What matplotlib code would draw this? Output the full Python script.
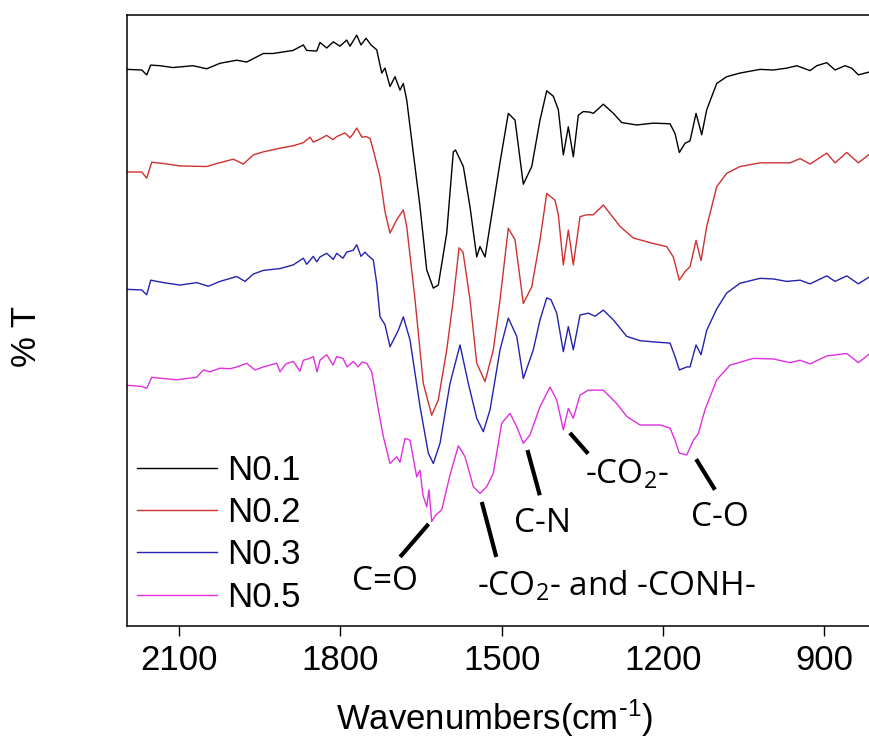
import numpy as np
import matplotlib
matplotlib.use('Agg')
from matplotlib import pyplot as plt

plt.rcParams['font.family'] = ['Liberation Sans', 'DejaVu Sans']
plt.rcParams['mathtext.default'] = 'regular'

# N0.1 (black)
wn1 = [2197, 2169.9, 2160.6, 2153.2, 2135.9, 2111.7, 2074.5, 2048.9, 2024.2, 1993.1, 1974.5, 1943.6,
       1925.5, 1888.3, 1869.1, 1862.8, 1844.2, 1838.1, 1825.6, 1813.3, 1800.9, 1788.4, 1782.2, 1769.8,
       1761.8, 1752.4, 1743.1, 1732.5, 1723.2, 1717.1, 1707.8, 1698.5, 1689.2, 1683.0, 1676.7, 1664.4,
       1651.9, 1639.5, 1627.2, 1617.9, 1602.2, 1590.0, 1585.9, 1571.3, 1558.9, 1546.4, 1540.3, 1530.9,
       1516.1, 1503.0, 1487.6, 1475.1, 1459.7, 1444.0, 1428.6, 1416.1, 1403.8, 1394.5, 1385.2, 1375.9,
       1366.6, 1357.3, 1348.0, 1335.6, 1329.4, 1310.7, 1292.1, 1276.5, 1248.6, 1217.7, 1186.6, 1177.3,
       1169.3, 1158.7, 1149.4, 1138.2, 1127.6, 1118.3, 1099.7, 1081.1, 1056.3, 1019.1, 994.3, 969.4,
       950.8, 926.0, 913.6, 894.9, 879.5, 860.9, 848.4, 836.1, 814.4]
t1 = [91.1, 91.0, 90.2, 91.8, 91.7, 91.4, 91.7, 91.2, 92.1, 92.6, 92.3, 93.7,
      93.7, 94.2, 95.1, 94.2, 94.1, 95.5, 94.6, 95.6, 94.9, 95.9, 94.9, 96.7,
      95.1, 96.2, 95.1, 94.3, 90.5, 91.3, 88.3, 89.9, 87.7, 88.8, 86.1, 77.4,
      68.6, 58.3, 55.3, 55.8, 64.3, 77.6, 77.9, 75.2, 68.6, 60.4, 62.1, 60.4,
      68.6, 75.9, 83.9, 82.8, 72.3, 75.2, 82.8, 87.6, 86.7, 84.5, 77.1, 81.7,
      76.8, 83.6, 84.2, 84.1, 83.9, 85.4, 83.9, 82.4, 82.0, 82.3, 82.2, 80.6,
      77.5, 79.0, 79.4, 83.9, 80.4, 84.5, 88.8, 89.9, 90.5, 91.1, 91.0, 91.3,
      91.7, 90.9, 91.7, 92.2, 91.0, 91.7, 91.3, 90.2, 90.7]

# N0.2 (red)
wn2 = [2197, 2169.9, 2160.6, 2151.3, 2129.7, 2098.6, 2048.9, 2030.3, 1999.4, 1980.8, 1962.2, 1943.6,
       1912.5, 1887.8, 1869.1, 1856.7, 1850.5, 1838.1, 1825.6, 1813.9, 1807.0, 1791.5, 1782.2, 1776.1,
       1769.8, 1759.9, 1752.4, 1745.0, 1738.9, 1726.4, 1717.1, 1707.8, 1695.3, 1683.0, 1676.7, 1661.2,
       1645.8, 1630.2, 1617.9, 1602.2, 1590.0, 1579.3, 1571.9, 1558.9, 1546.4, 1530.9, 1515.5, 1503.0,
       1487.6, 1475.1, 1459.7, 1444.0, 1428.6, 1416.1, 1400.7, 1394.5, 1385.2, 1375.9, 1366.6, 1354.1,
       1341.7, 1329.4, 1310.7, 1279.7, 1254.9, 1217.7, 1192.8, 1180.5, 1169.3, 1158.7, 1149.4, 1138.2,
       1128.9, 1118.3, 1099.7, 1081.1, 1056.3, 1019.1, 963.3, 944.6, 926.0, 894.9, 879.5, 857.7,
       836.1, 814.4]
t2 = [74.3, 74.3, 73.3, 75.9, 75.7, 75.3, 75.2, 75.7, 76.4, 75.6, 77.1, 77.6,
      78.2, 78.6, 79.1, 80.0, 79.2, 79.7, 80.3, 79.6, 80.1, 80.7, 79.9, 80.6,
      81.5, 80.0, 80.1, 79.8, 77.9, 73.5, 67.8, 64.3, 66.5, 68.1, 65.4, 53.4,
      39.7, 34.5, 37.0, 45.2, 53.4, 61.9, 61.2, 53.4, 43.0, 40.0, 45.2, 53.4,
      65.1, 63.2, 52.8, 55.5, 63.2, 70.8, 69.7, 67.3, 59.1, 64.8, 59.1, 67.0,
      67.3, 67.3, 68.9, 65.4, 63.5, 62.6, 62.1, 60.4, 56.6, 58.0, 58.8, 63.1,
      59.8, 65.4, 71.9, 74.1, 75.2, 75.8, 75.8, 76.5, 75.6, 77.4, 75.8, 77.5,
      75.8, 77.3]

# N0.3 (blue)
wn3 = [2197, 2169.9, 2160.6, 2153.2, 2129.7, 2098.6, 2067.6, 2046.0, 2024.2, 1993.1, 1977.7, 1962.2,
       1943.6, 1912.5, 1887.8, 1869.1, 1862.8, 1850.5, 1844.2, 1838.1, 1825.6, 1813.3, 1807.0, 1795.3,
       1788.4, 1776.1, 1769.8, 1761.8, 1754.3, 1748.2, 1738.9, 1732.5, 1726.4, 1717.1, 1707.8, 1692.3,
       1683.0, 1670.5, 1651.9, 1636.5, 1627.2, 1614.7, 1596.1, 1577.5, 1562.0, 1546.4, 1534.1, 1521.6,
       1503.0, 1487.6, 1471.9, 1459.7, 1441.1, 1428.6, 1416.1, 1408.1, 1397.5, 1385.2, 1375.9, 1366.6,
       1354.1, 1338.7, 1326.2, 1310.7, 1292.1, 1267.2, 1242.5, 1217.7, 1186.6, 1177.3, 1169.3, 1155.5,
       1149.4, 1138.2, 1128.9, 1118.3, 1099.7, 1081.1, 1056.3, 1019.1, 994.3, 969.4, 944.6, 926.0,
       894.9, 879.5, 857.7, 836.1, 814.4]
t3 = [55.1, 55.0, 54.2, 56.6, 56.2, 55.8, 56.2, 55.6, 56.4, 57.2, 56.4, 57.6,
      58.2, 58.5, 59.1, 60.2, 59.2, 60.5, 59.6, 60.4, 61.0, 60.0, 61.0, 60.2,
      61.2, 61.5, 62.4, 60.5, 61.2, 60.6, 59.9, 56.1, 50.6, 49.3, 45.7, 48.4,
      50.6, 46.8, 35.9, 28.3, 26.6, 29.9, 39.7, 46.0, 39.7, 34.0, 31.8, 35.4,
      45.2, 50.4, 47.4, 40.5, 45.2, 50.1, 53.7, 53.4, 51.2, 44.9, 49.0, 45.2,
      50.9, 51.2, 50.7, 51.7, 50.1, 47.4, 46.7, 46.5, 46.3, 44.1, 41.9, 42.4,
      42.4, 46.0, 44.4, 48.4, 51.9, 54.5, 56.1, 56.9, 56.8, 56.4, 56.6, 56.0,
      57.3, 56.4, 57.3, 56.0, 57.2]

# N0.5 (magenta)
wn5 = [2197, 2169.9, 2160.6, 2151.3, 2129.7, 2104.8, 2067.6, 2055.3, 2042.8, 2024.2, 2005.6, 1993.1,
       1974.5, 1959.0, 1943.6, 1918.7, 1912.5, 1901.4, 1887.8, 1875.3, 1869.1, 1856.7, 1850.5, 1843.6,
       1838.1, 1825.6, 1813.9, 1807.0, 1795.3, 1787.8, 1776.1, 1767.3, 1759.9, 1751.1, 1741.8, 1729.5,
       1720.2, 1707.8, 1695.3, 1689.2, 1679.9, 1670.5, 1658.1, 1651.9, 1646.4, 1639.5, 1635.2, 1630.2,
       1622.2, 1611.6, 1596.1, 1580.6, 1568.2, 1552.7, 1540.3, 1527.8, 1515.5, 1499.9, 1484.4, 1471.9,
       1459.7, 1447.2, 1428.6, 1410.0, 1397.5, 1385.2, 1375.9, 1366.6, 1354.1, 1338.7, 1310.7, 1285.8,
       1267.2, 1242.5, 1205.2, 1186.6, 1177.3, 1169.3, 1155.5, 1143.2, 1133.9, 1121.5, 1099.7, 1075.1,
       1031.6, 994.3, 963.3, 944.6, 926.0, 894.9, 857.7, 836.1, 814.4]
t5 = [39.4, 39.2, 38.9, 40.7, 40.5, 40.3, 40.7, 41.9, 41.6, 42.2, 42.1, 42.4,
      43.0, 41.9, 42.4, 43.0, 41.6, 42.9, 43.3, 41.7, 43.5, 43.8, 44.1, 41.6,
      43.5, 44.4, 42.7, 44.1, 43.8, 42.4, 43.3, 42.4, 43.2, 43.0, 41.6, 35.4,
      31.0, 26.6, 27.7, 26.8, 30.7, 30.4, 24.4, 25.5, 21.4, 19.5, 22.3, 17.1,
      18.2, 19.0, 24.7, 29.5, 27.7, 22.8, 21.7, 22.8, 25.0, 33.2, 34.8, 32.6,
      29.9, 31.3, 35.9, 39.1, 37.0, 32.1, 35.6, 34.0, 37.8, 38.6, 38.6, 36.4,
      34.3, 32.9, 32.9, 32.4, 30.4, 28.3, 28.0, 30.4, 31.5, 35.4, 40.3, 42.7,
      43.8, 43.7, 43.1, 43.5, 42.9, 44.2, 44.6, 43.1, 44.6]

labels = ['N0.1', 'N0.2', 'N0.3', 'N0.5']
colors = ['#000000', '#d03030', '#2323b0', '#e030e0']

# peak assignments: label, text position, line start (on curve), line end
notes = [('C=O', (1717, 7.3), (1636, 16.7), (1689, 11.3)),
         ('-CO$_{\\mathregular{2}}$- and -CONH-', (1287, 6.4), (1537, 20.3), (1510, 11.3)),
         ('C-N', (1424, 16.7), (1452, 28.8), (1429, 21.4)),
         ('-CO$_{\\mathregular{2}}$-', (1267, 24.7), (1373, 31.6), (1339, 28.2)),
         ('C-O', (1094, 17.7), (1138, 27.3), (1103, 22.3))]

fig = plt.figure(figsize=(8.7, 7.49), dpi=100)
ax = fig.add_axes([127/870, 1-626/749, 745/870, 611/749])

for x, y, lab, c in zip([wn1, wn2, wn3, wn5], [t1, t2, t3, t5], labels, colors):
    ax.plot(x, y, color=c, lw=1.0, label=lab)

for txt, tpos, p0, p1 in notes:
    ax.plot([p0[0], p1[0]], [p0[1], p1[1]], color='black', lw=3.0, solid_capstyle='butt')
    ax.text(tpos[0], tpos[1], txt, ha='center', va='center', fontsize=24,
            family=['Open Sans', 'DejaVu Sans'])

ax.set_xlim(2197.3, 810.7)
ax.set_ylim(0, 100)
ax.set_xticks([2100, 1800, 1500, 1200, 900])
ax.set_yticks([])
ax.tick_params(axis='x', direction='out', length=7, width=1.0, labelsize=25, pad=6)
for s in ax.spines.values():
    s.set_linewidth(1.1)
ax.spines['right'].set_visible(False)

leg = ax.legend(loc='lower left', bbox_to_anchor=(0.013, 0.02), frameon=False, fontsize=25,
                handlelength=2.3, handletextpad=0.3, labelspacing=0.27, borderpad=0, borderaxespad=0)

fig.text(27/870, 1-336/749, '% T', rotation=90, ha='center', va='center', fontsize=25)
fig.text(495/870, 1-718/749, 'Wavenumbers(cm$^{\\text{-}1}$)', ha='center', va='center', fontsize=25)

plt.savefig('out.png', dpi=100)
